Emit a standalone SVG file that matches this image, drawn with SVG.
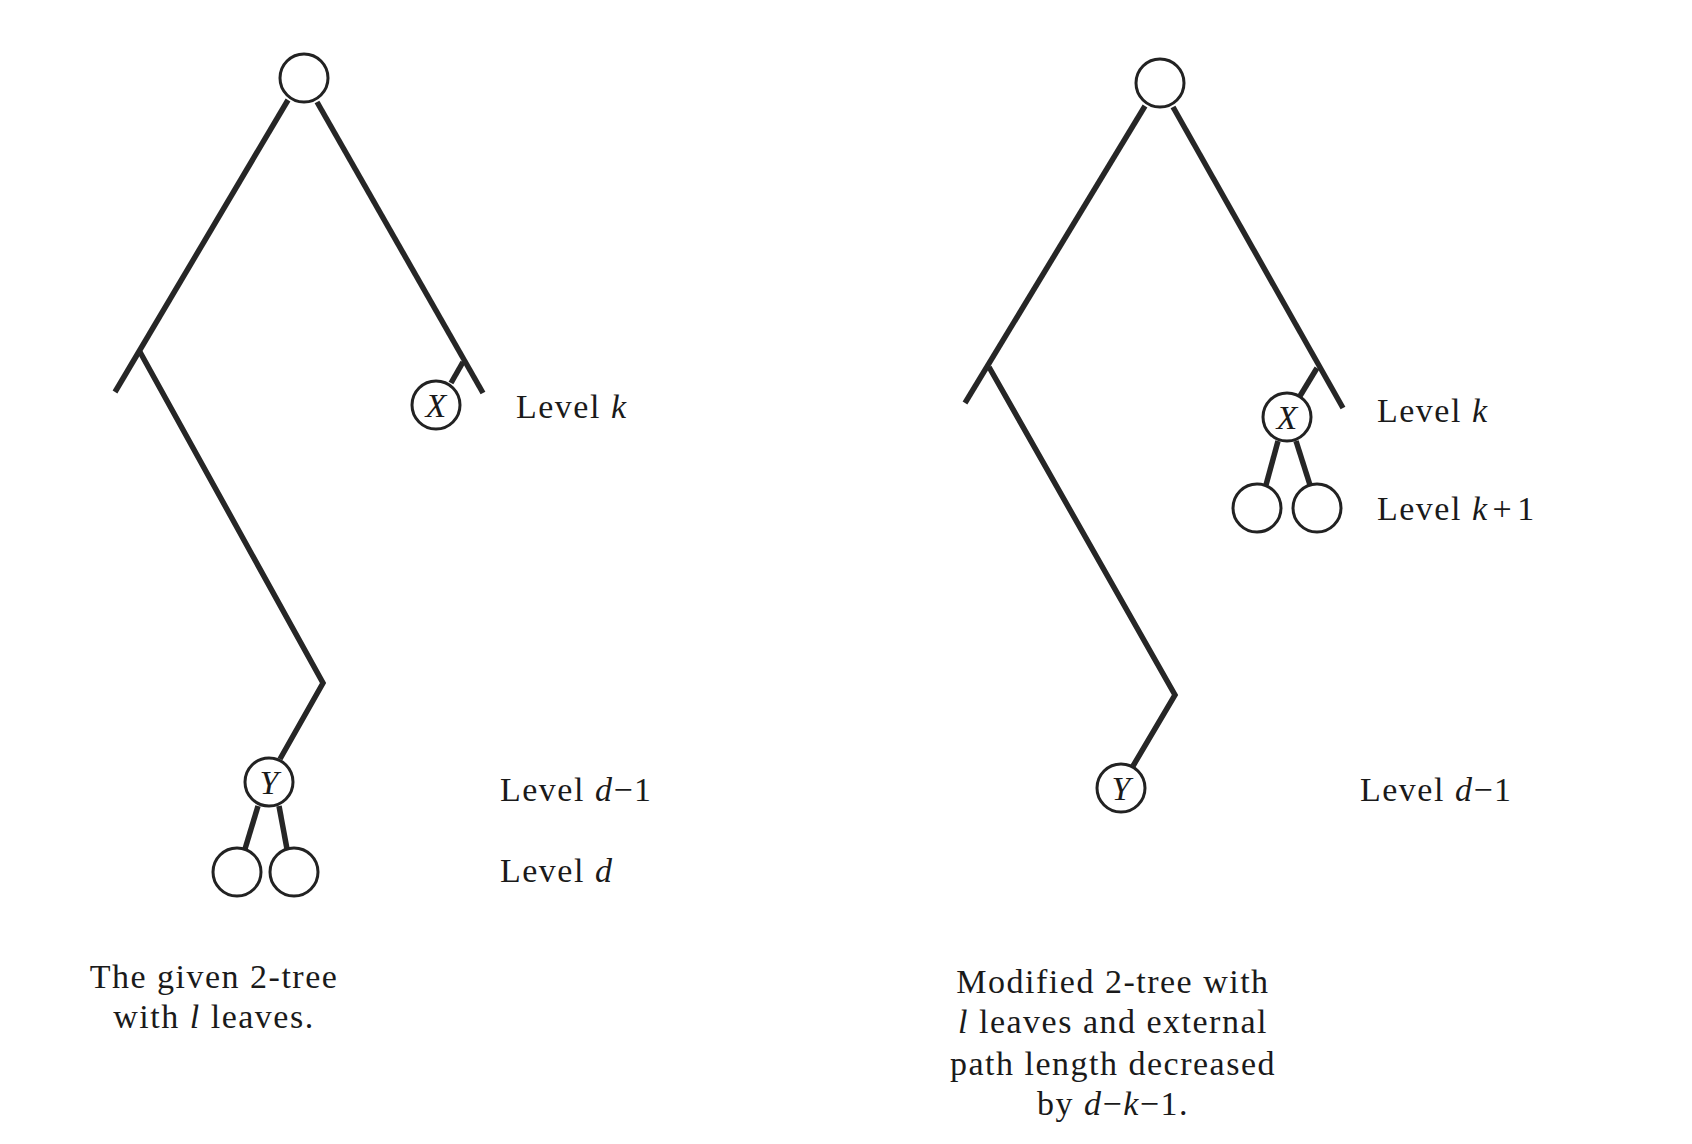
<svg xmlns="http://www.w3.org/2000/svg" width="1692" height="1144" viewBox="0 0 1692 1144">
<style>
.e{stroke:#262626;stroke-width:5.5;fill:none;stroke-linecap:butt;stroke-linejoin:miter}
.n{fill:#fff;stroke:#222;stroke-width:3}
.t{font-family:"Liberation Serif","Times New Roman",serif;font-size:34px;fill:#1a1a1a;letter-spacing:1.5px}
.v{font-family:"Liberation Serif","Times New Roman",serif;font-size:34px;font-style:italic;fill:#1a1a1a;text-anchor:middle}
.i{font-style:italic}
</style>
<rect width="1692" height="1144" fill="#fff"/>
<g id="connectors">
<line class="e" x1="288" y1="100" x2="115" y2="392"/>
<polyline class="e" points="140,352 323,683 280,759"/>
<line class="e" x1="317" y1="102" x2="483" y2="393"/>
<line class="e" x1="463" y1="362" x2="451" y2="383"/>
<line class="e" x1="258" y1="806" x2="245" y2="849"/>
<line class="e" x1="279" y1="806" x2="287" y2="849"/>
<line class="e" x1="1145" y1="106" x2="965" y2="403"/>
<polyline class="e" points="989,367 1175,695 1133,766"/>
<line class="e" x1="1173" y1="107" x2="1343" y2="408"/>
<line class="e" x1="1317" y1="368" x2="1300" y2="396"/>
<line class="e" x1="1278" y1="441" x2="1266" y2="485"/>
<line class="e" x1="1296" y1="441" x2="1310" y2="485"/>
</g>
<g id="left-root"><circle class="n" cx="304" cy="78" r="24"/></g>
<g id="left-X"><circle class="n" cx="436" cy="405" r="24"/><text class="v" x="436" y="417">X</text></g>
<g id="left-Y"><circle class="n" cx="269" cy="782" r="24"/><text class="v" x="269" y="794">Y</text></g>
<g id="left-leaf1"><circle class="n" cx="237" cy="872" r="24"/></g>
<g id="left-leaf2"><circle class="n" cx="294" cy="872" r="24"/></g>
<g id="right-root"><circle class="n" cx="1160" cy="83" r="24"/></g>
<g id="right-X"><circle class="n" cx="1287" cy="417" r="24"/><text class="v" x="1287" y="429">X</text></g>
<g id="right-leaf1"><circle class="n" cx="1257" cy="508" r="24"/></g>
<g id="right-leaf2"><circle class="n" cx="1317" cy="508" r="24"/></g>
<g id="right-Y"><circle class="n" cx="1121" cy="788" r="24"/><text class="v" x="1121" y="800">Y</text></g>
<g id="labels">
<text class="t" x="516" y="418">Level <tspan class="i">k</tspan></text>
<text class="t" x="500" y="801">Level <tspan class="i">d</tspan>−1</text>
<text class="t" x="500" y="882">Level <tspan class="i">d</tspan></text>
<text class="t" x="1377" y="422">Level <tspan class="i">k</tspan></text>
<text class="t" x="1377" y="520">Level <tspan class="i">k</tspan><tspan dx="4">+</tspan><tspan dx="4">1</tspan></text>
<text class="t" x="1360" y="801">Level <tspan class="i">d</tspan>−1</text>
<text class="t" x="214" y="988" text-anchor="middle">The given 2-tree</text>
<text class="t" x="214" y="1028" text-anchor="middle">with <tspan class="i">l</tspan> leaves.</text>
<text class="t" x="1113" y="993" text-anchor="middle">Modified 2-tree with</text>
<text class="t" x="1113" y="1033" text-anchor="middle"><tspan class="i">l</tspan> leaves and external</text>
<text class="t" x="1113" y="1075" text-anchor="middle">path length decreased</text>
<text class="t" x="1113" y="1115" text-anchor="middle">by <tspan class="i">d</tspan>−<tspan class="i">k</tspan>−1.</text>
</g>
</svg>
